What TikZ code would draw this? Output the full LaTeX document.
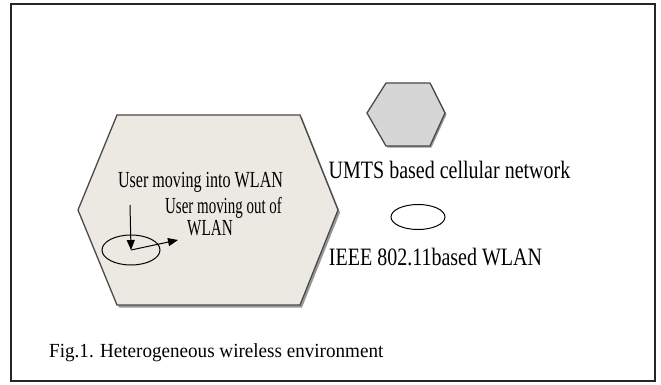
\documentclass[tikz,border=0pt]{standalone}
\usepackage{fontspec}
\setmainfont{Liberation Serif}
\usetikzlibrary{arrows.meta,shapes.geometric}
\definecolor{cellfill}{HTML}{EBE9E1}
\definecolor{smallfill}{HTML}{D6D6D6}
\definecolor{edgegray}{HTML}{4A4A4A}
\tikzset{
  frameline/.style={draw=black!85, line width=1.8pt},
  hexcell/.style={fill=cellfill, draw=edgegray, line width=1.3pt, line join=miter},
  hexsmall/.style={fill=smallfill, draw=edgegray, line width=1.3pt},
  shadowfill/.style={fill=black!40},
  wlan/.style={ellipse, draw=black, line width=1pt, inner sep=0pt},
  lbl/.style={inner sep=0pt, font=\fontsize{23pt}{27pt}\selectfont},
  leglbl/.style={inner sep=0pt, font=\fontsize{25pt}{29pt}\selectfont},
  caplbl/.style={inner sep=0pt, font=\fontsize{20pt}{24pt}\selectfont},
  movearrow/.style={draw=black, line width=1pt, -{Triangle[length=10pt,width=8pt]}}
}
\begin{document}
\begin{tikzpicture}[x=1pt,y=-1pt]
\useasboundingbox (0,0) rectangle (661,385);
\fill[white] (0,0) rectangle (661,385);
\draw[frameline] (11,4) rectangle (655,381);

% big cellular hexagon
\fill[shadowfill] (80,212.5) -- (119,117.5) -- (302,117.5) -- (340,212.5) -- (302,307.5) -- (119,307.5) -- cycle;
\draw[hexcell] (78,210) -- (117,115) -- (300,115) -- (338,210) -- (300,305) -- (117,305) -- cycle;

% legend hexagon
\fill[shadowfill] (368.5,114.5) -- (387.5,84.5) -- (431.5,84.5) -- (446.5,114.5) -- (431.5,147.5) -- (387.5,147.5) -- cycle;
\draw[hexsmall] (367,113) -- (386,83) -- (430,83) -- (445,113) -- (430,146) -- (386,146) -- cycle;

% WLAN ellipses
\node[wlan, minimum width=58pt, minimum height=30pt] (cell) at (131,250) {};
\node[wlan, minimum width=54pt, minimum height=25pt] (legwlan) at (418,217) {};

% labels
\node[lbl] (into) at (200.5,182) {\scalebox{0.7}[1]{User moving into WLAN}};
\node[lbl, anchor=west] (out1) at (165,208) {\scalebox{0.65}[1]{User moving out of}};
\node[lbl, anchor=west] (out2) at (187,228) {\scalebox{0.66}[1]{WLAN}};
\node[leglbl] (umts) at (449.5,170) {\scalebox{0.8}[1]{UMTS based cellular network}};
\node[leglbl] (ieee) at (435.5,257) {\scalebox{0.8}[1]{IEEE 802.11based WLAN}};
\node[caplbl, anchor=west] (cap) at (49,353) {\scalebox{0.955}[1]{Fig.1. Heterogeneous wireless environment}};

% movement arrows
\coordinate (enter) at (130,205);
\coordinate (leave) at (178,240);
\draw[movearrow] (enter) -- (cell.center);
\draw[movearrow] (cell.center) -- (leave);
\end{tikzpicture}
\end{document}
